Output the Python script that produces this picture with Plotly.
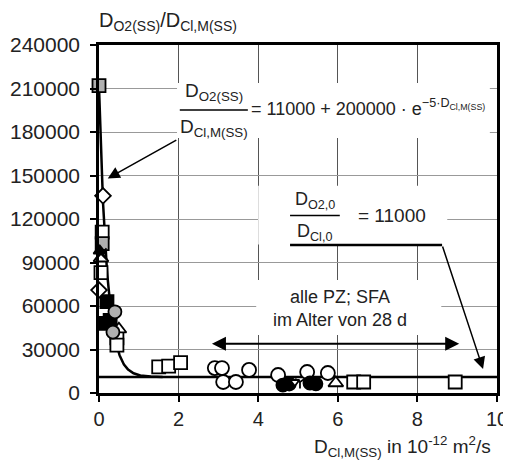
import plotly.graph_objects as go
import numpy as np

# ---- data ----
open_sq_x = [0.08, 0.05, 0.45, 0.45, 1.5, 1.75, 2.05, 6.4, 6.65, 8.95]
open_sq_y = [111000, 83000, 38000, 33000, 18000, 18500, 21000, 7600, 7600, 7600]
grey_sq_x = [0.0, 0.08]
grey_sq_y = [212000, 103000]
black_sq_x = [0.2, 0.15, 0.28]
black_sq_y = [63000, 48000, 50000]
open_tri_x = [0.05, 0.5, 5.95]
open_tri_y = [93000, 44000, 6900]
black_tri_x = [-0.02, 0.02]
black_tri_y = [133000, 98000]
open_dia_x = [0.1, 0.0]
open_dia_y = [136000, 71000]
cross_x = [0.05]
cross_y = [96000]
open_circ_x = [2.91, 3.09, 3.12, 3.44, 3.77, 4.50, 5.23, 5.75]
open_circ_y = [17200, 17200, 7600, 7600, 15900, 12400, 14500, 13800]
grey_circ_x = [0.4, 0.35]
grey_circ_y = [56000, 42000]
black_circ_x = [4.62, 4.78, 5.3, 5.45]
black_circ_y = [5500, 6200, 6900, 6300]
small_x = [4.92, 5.05]
small_y = [7600, 7600]

# fitted relation shown in the chart: y = A + B * exp(-k x)
fit_A = 11000
fit_B = 200000
fit_k = 5
const_x = [0, 10]
const_y = [11000, 11000]

x_ticks = [0, 2, 4, 6, 8, 10]
y_ticks = [0, 30000, 60000, 90000, 120000, 150000, 180000, 210000, 240000]

FONT = "Liberation Sans, Arial, sans-serif"
TXT = "#222"

fig = go.Figure()

curve_x = np.linspace(0, 1.6, 200)
curve_y = fit_A + fit_B * np.exp(-fit_k * curve_x)
fig.add_trace(go.Scatter(x=curve_x, y=curve_y, mode="lines",
                         line=dict(color="black", width=2.5), cliponaxis=False))
fig.add_trace(go.Scatter(x=const_x, y=const_y, mode="lines",
                         line=dict(color="black", width=2.5)))

def mk(x, y, symbol, fill, size=13):
    fig.add_trace(go.Scatter(
        x=x, y=y, mode="markers", cliponaxis=False,
        marker=dict(symbol=symbol, size=size, color=fill,
                    line=dict(color="black", width=1.8))))

mk(open_circ_x, open_circ_y, "circle", "white", 14)
mk(black_circ_x, black_circ_y, "circle", "black", 13)
mk(small_x[:1], small_y[:1], "triangle-down", "white", 8)
mk(small_x[1:], small_y[1:], "y-down-open", "black", 8)
mk(open_sq_x, open_sq_y, "square", "white", 13)
mk(grey_sq_x, grey_sq_y, "square", "#b0b0b0", 13)
mk(black_sq_x, black_sq_y, "square", "black", 13)
mk(open_tri_x, open_tri_y, "triangle-up", "white", 13)
mk(black_tri_x, black_tri_y, "triangle-up", "black", 11)
mk(open_dia_x, open_dia_y, "diamond", "white", 12)
mk(cross_x, cross_y, "x-thin-open", "black", 11)
mk(grey_circ_x, grey_circ_y, "circle", "#b0b0b0", 13)

shapes = []
# white boxes hiding gridlines behind text
for (x0, x1, y0, y1) in [(1.96, 9.82, 175900, 213800),
                         (4.0, 8.75, 102500, 143000),
                         (3.95, 8.6, 40000, 78000)]:
    shapes.append(dict(type="rect", xref="x", yref="y", x0=x0, x1=x1, y0=y0, y1=y1,
                       fillcolor="white", line=dict(width=0), layer="between"))
# fraction bars
shapes.append(dict(type="line", xref="x", yref="y", x0=2.03, x1=3.74, y0=195200, y1=195200,
                   line=dict(color="black", width=1.5)))
shapes.append(dict(type="line", xref="x", yref="y", x0=4.8, x1=6.05, y0=122500, y1=122500,
                   line=dict(color="black", width=1.5)))
# leader line
shapes.append(dict(type="line", xref="x", yref="y", x0=4.8, x1=8.62, y0=102000, y1=102000,
                   line=dict(color="black", width=2.5)))

ann = []
tf = dict(family=FONT, size=19, color=TXT)
ann.append(dict(x=2.9, y=207500, text="D<sub>O2(SS)</sub>", showarrow=False, font=tf,
                xref="x", yref="y"))
ann.append(dict(x=2.9, y=182500, text="D<sub>Cl,M(SS)</sub>", showarrow=False, font=tf,
                xref="x", yref="y"))
ann.append(dict(x=3.76, y=197000, text="= 11000 + 200000 · e<sup>\u22125·D<sub>Cl,M(SS)</sub></sup>",
                showarrow=False, font=dict(family=FONT, size=18, color=TXT),
                xanchor="left", xref="x", yref="y"))
t2 = dict(family=FONT, size=18, color=TXT)
ann.append(dict(x=5.42, y=132500, text="D<sub>O2,0</sub>", showarrow=False, font=t2,
                xref="x", yref="y"))
ann.append(dict(x=5.42, y=111000, text="D<sub>Cl,0</sub>", showarrow=False, font=t2,
                xref="x", yref="y"))
ann.append(dict(x=6.45, y=122500, text="= 11000", showarrow=False,
                font=dict(family=FONT, size=19, color=TXT), xanchor="left", xref="x", yref="y"))
ann.append(dict(x=6.05, y=58000, text="alle PZ; SFA<br>im Alter von 28 d", showarrow=False,
                font=dict(family=FONT, size=18, color=TXT), xref="x", yref="y", align="center"))
# arrows
ann.append(dict(x=0.22, y=148000, ax=1.98, ay=175000, xref="x", yref="y", axref="x", ayref="y",
                text="", showarrow=True, arrowhead=2, arrowsize=1.6, arrowwidth=1.5,
                arrowcolor="black"))
ann.append(dict(x=9.65, y=16500, ax=8.62, ay=102000, xref="x", yref="y", axref="x", ayref="y",
                text="", showarrow=True, arrowhead=2, arrowsize=1.6, arrowwidth=1.5,
                arrowcolor="black"))
ann.append(dict(x=9.05, y=34000, ax=2.8, ay=34000, xref="x", yref="y", axref="x", ayref="y",
                text="", showarrow=True, arrowhead=2, arrowsize=1.4, arrowwidth=2,
                arrowside="end+start", arrowcolor="black"))
# axis titles
ann.append(dict(x=-0.005, y=1.068, xref="paper", yref="paper", xanchor="left", yanchor="middle",
                text="D<sub>O2(SS)</sub>/D<sub>Cl,M(SS)</sub>", showarrow=False,
                font=dict(family=FONT, size=20, color=TXT)))
ann.append(dict(x=0.99, y=-0.155, xref="paper", yref="paper", xanchor="right", yanchor="middle",
                text="D<sub>Cl,M(SS)</sub> in 10<sup>-12</sup> m<sup>2</sup>/s", showarrow=False,
                font=dict(family=FONT, size=19, color=TXT)))

fig.update_layout(
    width=511, height=468,
    margin=dict(l=91, r=22, t=37, b=83, autoexpand=False),
    paper_bgcolor="white", plot_bgcolor="white",
    showlegend=False,
    shapes=shapes, annotations=ann,
    font=dict(family=FONT, size=20, color=TXT),
)
fig.update_xaxes(range=[0, 10], tickvals=x_ticks, showgrid=True, gridcolor="#555", gridwidth=1,
                 showline=True, mirror=True, linecolor="black", linewidth=2.5,
                 ticks="outside", ticklen=6, tickwidth=1.5, tickcolor="black",
                 zeroline=False, tickfont=dict(size=20), automargin=False)
fig.update_yaxes(range=[0, 240000], tickvals=y_ticks, tickformat="d", showgrid=True,
                 gridcolor="#999", gridwidth=1,
                 showline=True, mirror=True, linecolor="black", linewidth=2.5,
                 ticks="outside", ticklen=6, tickwidth=1.5, tickcolor="black",
                 zeroline=False, tickfont=dict(size=21), automargin=False,
                 ticklabelstandoff=6)

fig.write_html("out.html")
